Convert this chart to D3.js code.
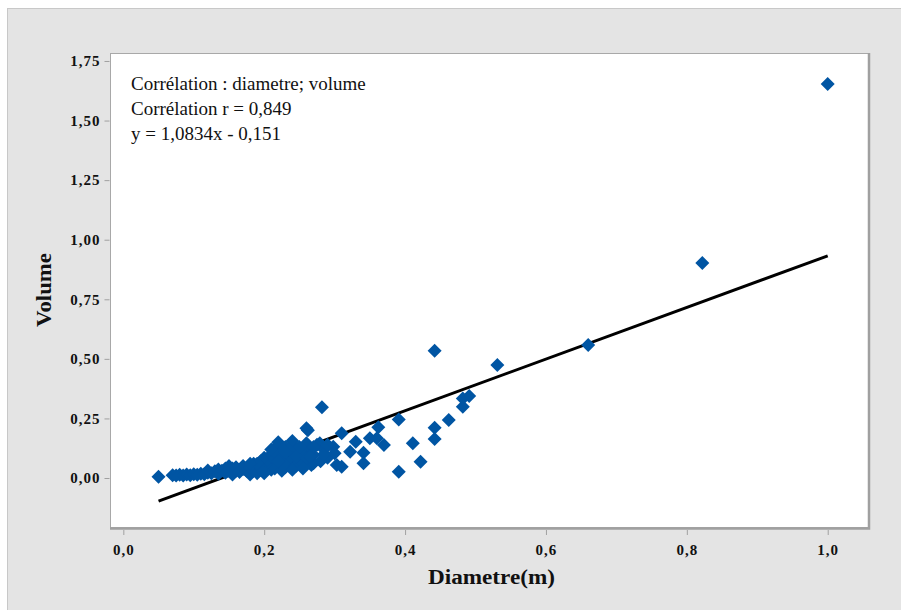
<!DOCTYPE html>
<html>
<head>
<meta charset="utf-8">
<script src="https://cdn.jsdelivr.net/npm/d3@7"></script>
<style>
  body { margin: 0; background: #fff; }
  svg text { font-family: "Liberation Serif", "DejaVu Serif", serif; }
</style>
</head>
<body>
<div class="view"></div>
<script>
// diametre (m) et volume
const diametre = [
  0.05, 0.07, 0.075, 0.08, 0.085, 0.09, 0.095, 0.10, 0.105, 0.11,
  0.115, 0.12, 0.12, 0.125, 0.13, 0.135, 0.135, 0.14, 0.145, 0.145,
  0.15, 0.15, 0.155, 0.155, 0.16, 0.16, 0.165, 0.17, 0.17, 0.175,
  0.18, 0.18, 0.185, 0.185, 0.19, 0.19, 0.195, 0.195, 0.20, 0.20,
  0.20, 0.205, 0.205, 0.21, 0.21, 0.21, 0.215, 0.215, 0.22, 0.22,
  0.22, 0.225, 0.225, 0.23, 0.23, 0.23, 0.235, 0.235, 0.24, 0.24,
  0.245, 0.245, 0.25, 0.25, 0.255, 0.255, 0.26, 0.262, 0.26, 0.265,
  0.267, 0.27, 0.27, 0.275, 0.279, 0.282, 0.285, 0.29, 0.298, 0.30,
  0.303, 0.31, 0.31, 0.322, 0.33, 0.341, 0.341, 0.35, 0.36, 0.362,
  0.37, 0.391, 0.391, 0.411, 0.422, 0.442, 0.442, 0.442, 0.462, 0.482,
  0.482, 0.491, 0.531, 0.66, 0.822, 1.0,
  0.20, 0.215, 0.225, 0.235, 0.245, 0.25, 0.24, 0.26, 0.255, 0.27,
  0.28, 0.285, 0.29, 0.21, 0.195, 0.19, 0.18, 0.23, 0.22, 0.265
]
const volume = [
  0.005, 0.012, 0.010, 0.014, 0.011, 0.015, 0.012, 0.016, 0.014, 0.018,
  0.016, 0.022, 0.032, 0.020, 0.028, 0.036, 0.018, 0.030, 0.040, 0.022,
  0.050, 0.030, 0.015, 0.040, 0.030, 0.045, 0.025, 0.038, 0.050, 0.030,
  0.045, 0.015, 0.060, 0.030, 0.040, 0.020, 0.070, 0.050, 0.030, 0.060,
  0.085, 0.045, 0.075, 0.100, 0.060, 0.035, 0.125, 0.080, 0.150, 0.095,
  0.050, 0.070, 0.110, 0.130, 0.085, 0.045, 0.100, 0.060, 0.155, 0.080,
  0.120, 0.050, 0.095, 0.065, 0.104, 0.062, 0.209, 0.200, 0.146, 0.125,
  0.055, 0.097, 0.062, 0.140, 0.146, 0.297, 0.120, 0.085, 0.131, 0.104,
  0.055, 0.188, 0.047, 0.110, 0.152, 0.106, 0.062, 0.167, 0.167, 0.213,
  0.138, 0.246, 0.026, 0.146, 0.068, 0.164, 0.211, 0.534, 0.243, 0.299,
  0.334, 0.344, 0.474, 0.558, 0.902, 1.653,
  0.020, 0.040, 0.030, 0.120, 0.090, 0.130, 0.035, 0.085, 0.040, 0.130,
  0.070, 0.100, 0.140, 0.120, 0.035, 0.060, 0.060, 0.110, 0.070, 0.090
]
const xTicks = [0, 0.2, 0.4, 0.6, 0.8, 1.0]
const yTicks = [0, 0.25, 0.5, 0.75, 1.0, 1.25, 1.5, 1.75]
const slope = 1.0834
const intercept = -0.151
const annotations = ['Corrélation : diametre; volume', 'Corrélation r = 0,849', 'y = 1,0834x - 0,151']

const w = 901
const h = 610
const pLeft = 110, pRight = 868, pTop = 53, pBottom = 527

const svg = d3.select('.view')
  .append('svg')
  .attr('width', w)
  .attr('height', h)

// fond gris
svg.append('rect')
  .attr('x', 7.5).attr('y', 8.5)
  .attr('width', w).attr('height', h)
  .attr('fill', '#e4e4e4')
  .attr('stroke', '#c8c8c8')

// zone du graphique
svg.append('rect')
  .attr('x', pLeft + 0.5).attr('y', pTop + 0.5)
  .attr('width', pRight - pLeft).attr('height', pBottom - pTop)
  .attr('fill', '#fff')
  .attr('stroke', '#a8a8a8')

svg.append('path')
  .attr('d', 'M' + (pRight + 1) + ',' + pTop + 'V' + (pBottom + 1.5) + 'H' + pLeft)
  .attr('fill', 'none')
  .attr('stroke', '#a0a0a0')
  .attr('stroke-width', 2.5)

const xScale = d3.scaleLinear().domain([-0.0189, 1.0572]).range([pLeft, pRight])
const yScale = d3.scaleLinear().domain([-0.2056, 1.7835]).range([pBottom, pTop])

// axes
const xAxis = d3.axisBottom(xScale).tickValues(xTicks).tickSize(5).tickPadding(9)
  .tickFormat((d) => d3.format('.1f')(d).replace('.', ','))
const yAxis = d3.axisLeft(yScale).tickValues(yTicks).tickSize(5).tickPadding(4)
  .tickFormat((d) => d3.format('.2f')(d).replace('.', ','))

svg.append('g')
  .attr('class', 'x-axis')
  .attr('transform', 'translate(0,' + (pBottom + 3) + ')')
  .call(xAxis)
svg.append('g')
  .attr('class', 'y-axis')
  .attr('transform', 'translate(' + (pLeft - 0.5) + ',0)')
  .call(yAxis)

svg.selectAll('.domain').remove()
svg.selectAll('.tick line').attr('stroke', '#a0a0a0')
svg.selectAll('.tick text')
  .attr('fill', '#111')
  .attr('font-size', 15)
  .attr('font-weight', 'bold')
  .attr('letter-spacing', 1)
  .style('font-family', '"Liberation Serif", serif')

// droite de régression
const lineData = [0.05, 1.0]
svg.append('path')
  .datum(lineData)
  .attr('d', d3.line().x((d) => xScale(d)).y((d) => yScale(slope * d + intercept)))
  .attr('stroke', '#000')
  .attr('stroke-width', 3)
  .attr('fill', 'none')

// points
const diamond = d3.symbol().type(d3.symbolDiamond2).size(125)
svg.selectAll('.dot')
  .data(diametre.map((d, i) => [d, volume[i]]))
  .enter()
  .append('path')
  .attr('class', 'dot')
  .attr('d', diamond)
  .attr('transform', (d) => 'translate(' + xScale(d[0]) + ',' + yScale(d[1]) + ')')
  .attr('fill', '#0055a3')

// texte
svg.selectAll('.annot')
  .data(annotations)
  .enter()
  .append('text')
  .attr('class', 'annot')
  .attr('x', 131)
  .attr('y', (d, i) => 90 + i * 25)
  .attr('font-size', 19)
  .attr('fill', '#111')
  .text((d) => d)

svg.append('text')
  .attr('x', 428)
  .attr('y', 584)
  .attr('font-size', 20)
  .attr('font-weight', 'bold')
  .attr('textLength', 127)
  .attr('lengthAdjust', 'spacingAndGlyphs')
  .attr('fill', '#111')
  .text('Diametre(m)')

svg.append('text')
  .attr('transform', 'translate(51,327) rotate(-90)')
  .attr('font-size', 20)
  .attr('font-weight', 'bold')
  .attr('textLength', 74)
  .attr('lengthAdjust', 'spacingAndGlyphs')
  .attr('fill', '#111')
  .text('Volume')
</script>
</body>
</html>
